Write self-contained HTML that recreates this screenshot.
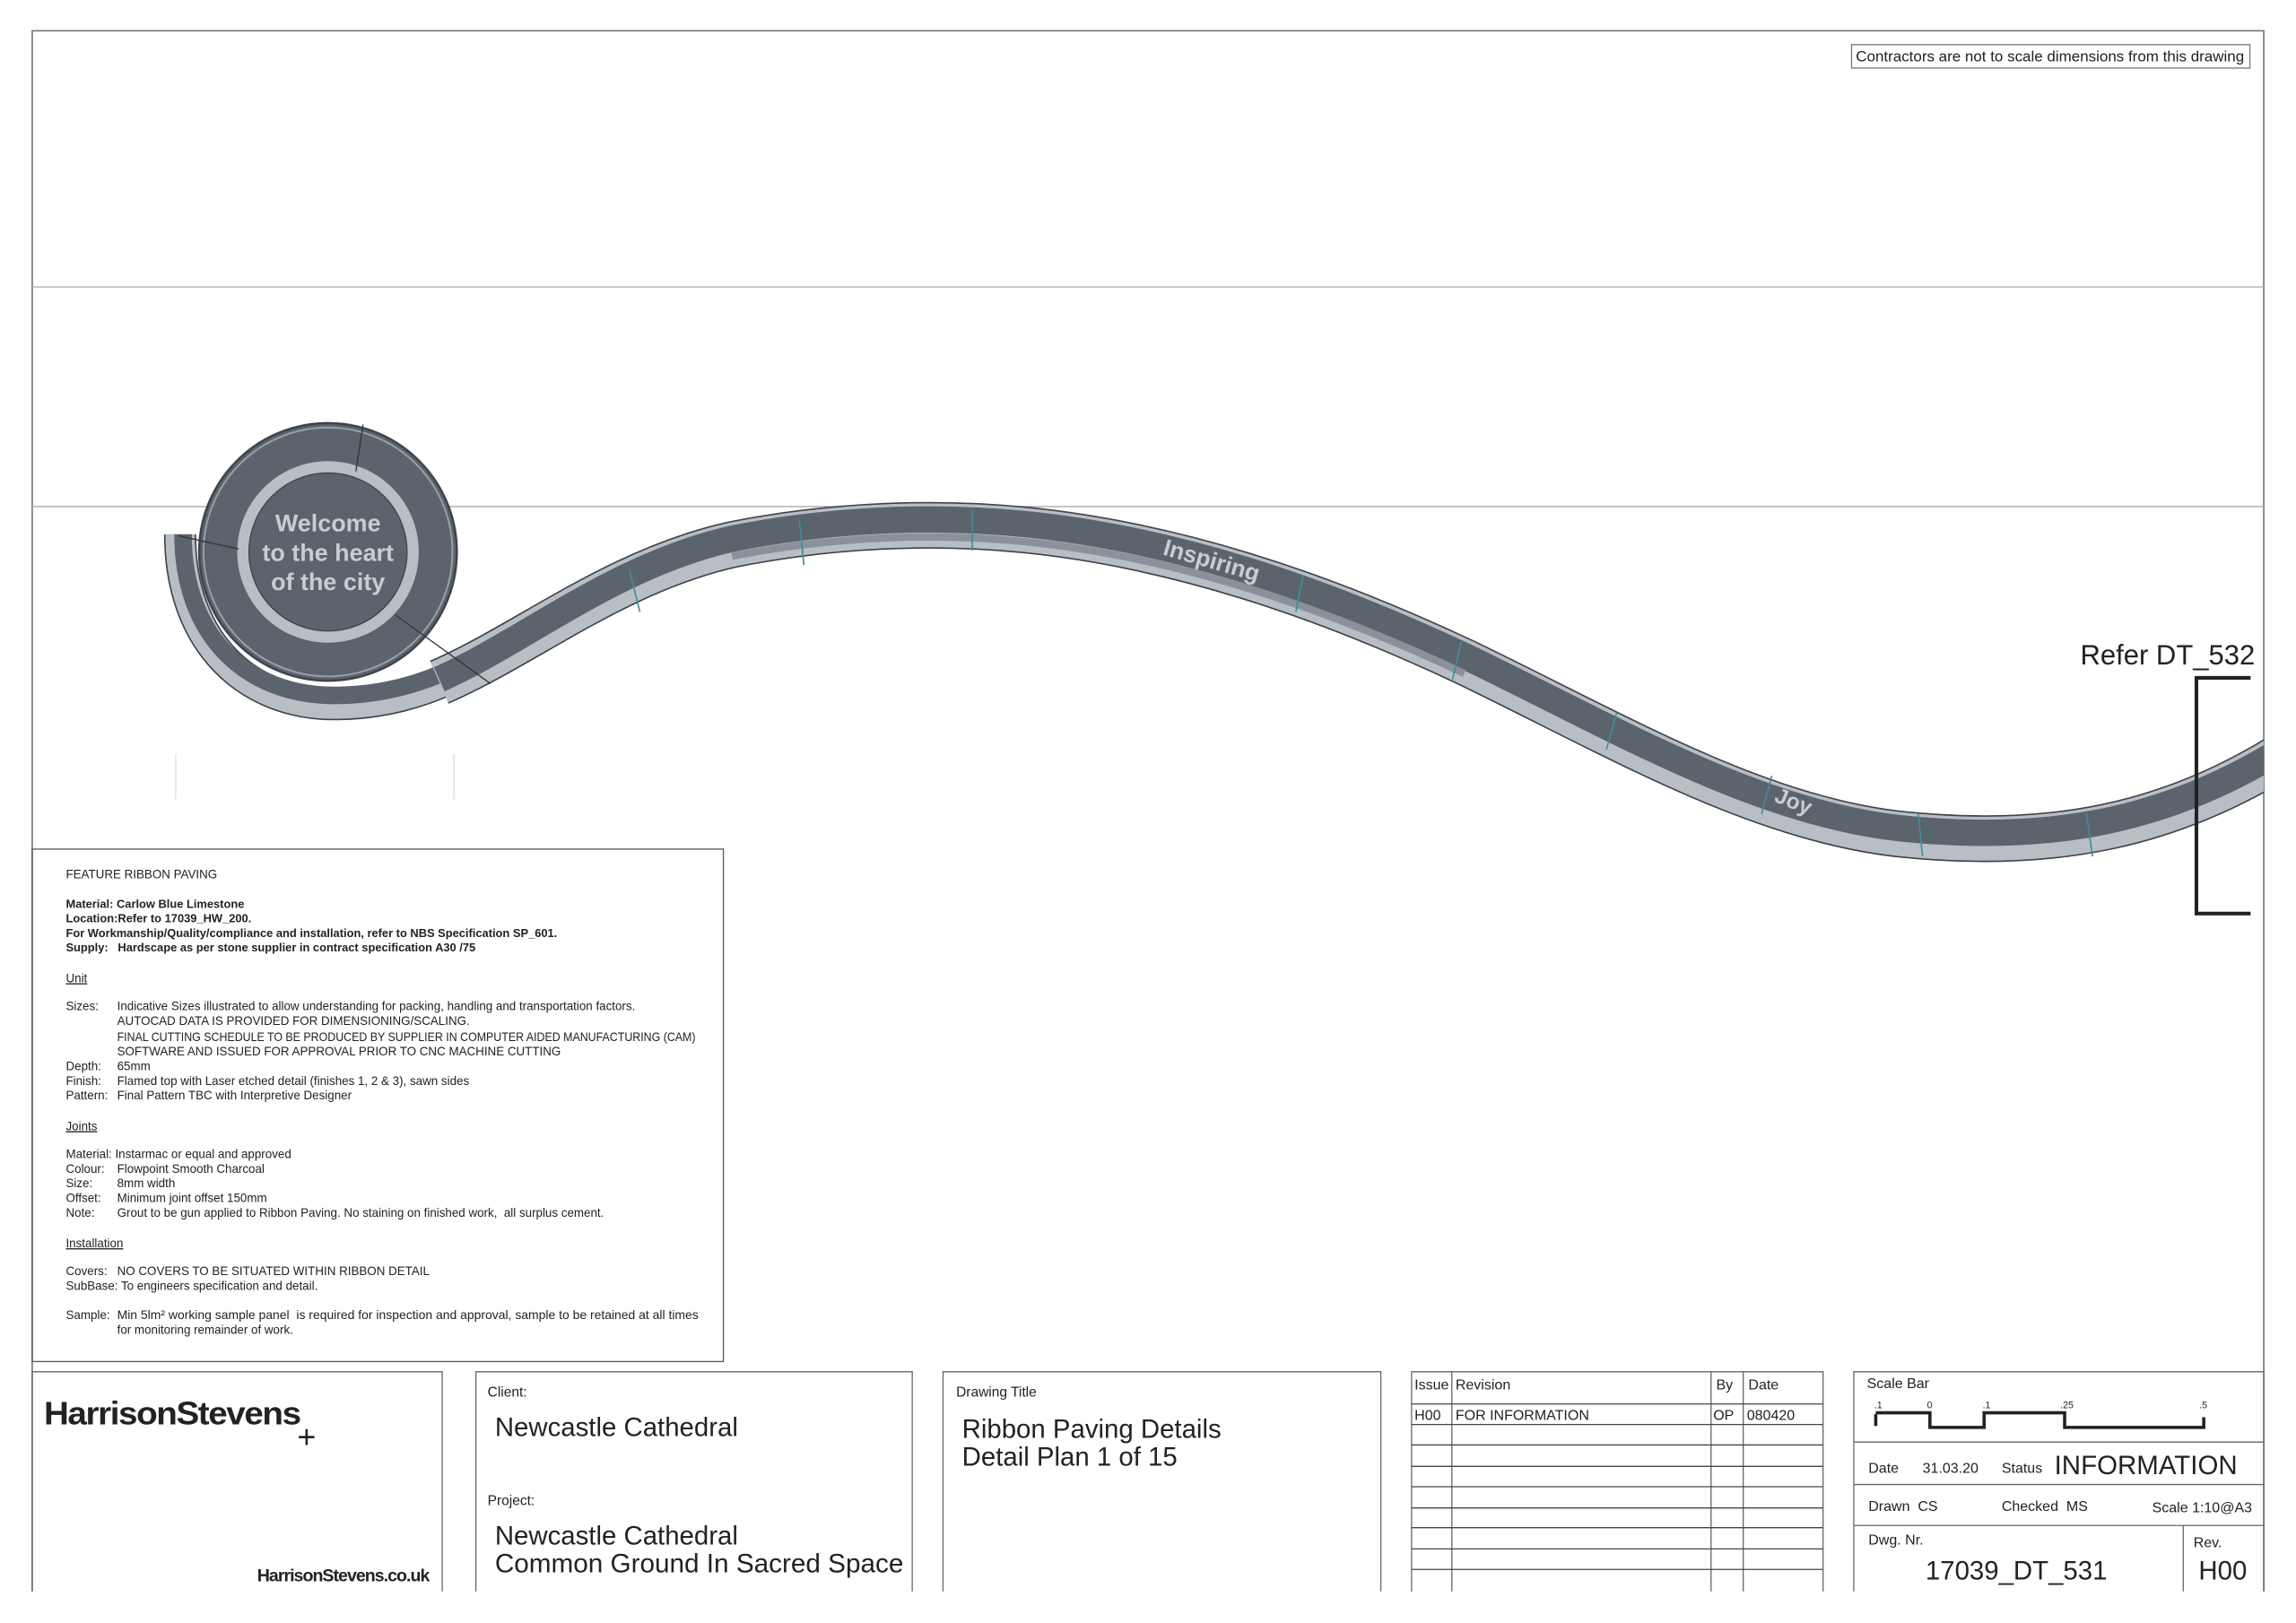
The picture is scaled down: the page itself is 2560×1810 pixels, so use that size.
<!DOCTYPE html>
<html><head><meta charset="utf-8"><style>
html,body{margin:0;padding:0;background:#fff;}
svg{display:block}
text{font-family:"Liberation Sans",sans-serif;}
.n{font-family:"Liberation Sans",sans-serif;fill:#222}
</style></head><body>
<svg width="2560" height="1810" viewBox="0 0 1568 1108.6" preserveAspectRatio="none" xmlns="http://www.w3.org/2000/svg">
<defs><clipPath id="c"><rect x="22" y="21" width="1524" height="1070"/></clipPath></defs>
<rect x="0" y="0" width="1568" height="1109" fill="#fff"/>
<path d="M22 1087 V21 H1546 V1087" fill="none" stroke="#777" stroke-width="1"/>
<line x1="22" y1="196" x2="1546" y2="196" stroke="#aaa" stroke-width="0.8"/>
<line x1="22" y1="346" x2="1546" y2="346" stroke="#aaa" stroke-width="0.8"/>
<rect x="1264.5" y="30.5" width="272" height="16" fill="#fff" stroke="#777" stroke-width="0.8"/>
<text x="1400" y="42" font-size="10.4" text-anchor="middle" fill="#222">Contractors are not to scale dimensions from this drawing</text>
<line x1="120" y1="515" x2="120" y2="546" stroke="#ddd" stroke-width="0.8"/>
<line x1="310" y1="515" x2="310" y2="546" stroke="#ddd" stroke-width="0.8"/>

<g clip-path="url(#c)">
<g fill="none" stroke-linecap="butt">
<path d="M123 365 C 123 440, 170 481, 228 481 C 262 481, 290 472, 310 462" stroke="#3d434a" stroke-width="22"/>
<path d="M123 365 C 123 440, 170 481, 228 481 C 262 481, 290 472, 310 462" stroke="#b9bec5" stroke-width="20"/>
<path d="M125 365 C 125 436, 170 475, 228 475 C 262 475, 290 466, 310 456" stroke="#5b636d" stroke-width="12"/>
<path d="M300 466 C 360 440, 420 390, 500 372 C 570 358, 640 356, 700 362 C 800 372, 900 405, 1000 452 C 1100 500, 1200 560, 1300 570 C 1400 580, 1480 565, 1560 515" stroke="#3d434a" stroke-width="32"/>
<path d="M300 466 C 360 440, 420 390, 500 372 C 570 358, 640 356, 700 362 C 800 372, 900 405, 1000 452 C 1100 500, 1200 560, 1300 570 C 1400 580, 1480 565, 1560 515" stroke="#b9bec5" stroke-width="30"/>
<path d="M300 464 C 360 437, 420 386, 500 368 C 570 354, 640 352, 700 358 C 800 368, 900 401, 1000 448 C 1100 496, 1200 556, 1300 566 C 1400 576, 1480 561, 1560 511" stroke="#5b636d" stroke-width="18"/>
<path d="M500 380 C 570 366, 640 364, 700 370 C 800 380, 900 413, 1000 460" stroke="#8a919b" stroke-width="5"/>
</g>
</g>
<circle cx="224" cy="377" r="88" fill="#5b636d" stroke="#3d434a" stroke-width="1.5"/>
<circle cx="224" cy="377" r="85" fill="none" stroke="#9aa0a8" stroke-width="1.2"/>
<circle cx="224" cy="377" r="62" fill="#b9bec5"/>
<circle cx="224" cy="377" r="54" fill="#5b636d" stroke="#3d434a" stroke-width="0.8"/>
<line x1="248" y1="290" x2="243" y2="322" stroke="#333" stroke-width="0.8"/>
<line x1="270" y1="420" x2="335" y2="467" stroke="#333" stroke-width="0.8"/>
<line x1="122" y1="366" x2="163" y2="375" stroke="#333" stroke-width="0.8"/>
<g stroke="#3b8f9a" stroke-width="1">
<line x1="430" y1="390" x2="437" y2="418"/><line x1="546" y1="356" x2="549" y2="386"/>
<line x1="664" y1="348" x2="664" y2="376"/><line x1="890" y1="393" x2="885" y2="418"/>
<line x1="998" y1="438" x2="992" y2="464"/><line x1="1104" y1="487" x2="1097" y2="512"/>
<line x1="1210" y1="530" x2="1203" y2="556"/><line x1="1310" y1="556" x2="1313" y2="585"/>
<line x1="1425" y1="556" x2="1429" y2="585"/>
</g>
<g font-weight="bold" fill="#c9cdd3" text-anchor="middle" font-size="16.5">
<text x="224" y="363">Welcome</text><text x="224" y="383">to the heart</text><text x="224" y="403">of the city</text>
<text x="0" y="0" font-size="16" transform="translate(826 388) rotate(16)">Inspiring</text>
<text x="0" y="0" font-size="15" transform="translate(1223 552) rotate(22)">Joy</text>
</g>
<text class="n" x="1540" y="454" font-size="19" text-anchor="end">Refer DT_532</text>
<path d="M1537 463 H1500 V624 H1537" fill="none" stroke="#222" stroke-width="2.5"/>

<rect x="22" y="580" width="472" height="350" fill="none" stroke="#555" stroke-width="0.8"/>
<g class="n" font-size="8.2">
<text x="45" y="600">FEATURE RIBBON PAVING</text>
<g font-weight="bold" font-size="7.9"><text x="45" y="620">Material: Carlow Blue Limestone</text>
<text x="45" y="630">Location:Refer to 17039_HW_200.</text>
<text x="45" y="640">For Workmanship/Quality/compliance and installation, refer to NBS Specification SP_601.</text>
<text x="45" y="650">Supply:&#160;&#160; Hardscape as per stone supplier in contract specification A30 /75</text></g>
<text x="45" y="671" text-decoration="underline">Unit</text>
<text x="45" y="690">Sizes:</text><text x="80" y="690">Indicative Sizes illustrated to allow understanding for packing, handling and transportation factors.</text>
<text x="80" y="700">AUTOCAD DATA IS PROVIDED FOR DIMENSIONING/SCALING.</text>
<text x="80" y="711" textLength="395" lengthAdjust="spacingAndGlyphs">FINAL CUTTING SCHEDULE TO BE PRODUCED BY SUPPLIER IN COMPUTER AIDED MANUFACTURING (CAM)</text>
<text x="80" y="721">SOFTWARE AND ISSUED FOR APPROVAL PRIOR TO CNC MACHINE CUTTING</text>
<text x="45" y="731">Depth:</text><text x="80" y="731">65mm</text>
<text x="45" y="741">Finish:</text><text x="80" y="741">Flamed top with Laser etched detail (finishes 1, 2 &amp; 3), sawn sides</text>
<text x="45" y="751">Pattern:</text><text x="80" y="751">Final Pattern TBC with Interpretive Designer</text>
<text x="45" y="772" text-decoration="underline">Joints</text>
<text x="45" y="791">Material: Instarmac or equal and approved</text>
<text x="45" y="801">Colour:</text><text x="80" y="801">Flowpoint Smooth Charcoal</text>
<text x="45" y="811">Size:</text><text x="80" y="811">8mm width</text>
<text x="45" y="821">Offset:</text><text x="80" y="821">Minimum joint offset 150mm</text>
<text x="45" y="831">Note:</text><text x="80" y="831">Grout to be gun applied to Ribbon Paving. No staining on finished work,&#160; all surplus cement.</text>
<text x="45" y="852" text-decoration="underline">Installation</text>
<text x="45" y="871">Covers:</text><text x="80" y="871">NO COVERS TO BE SITUATED WITHIN RIBBON DETAIL</text>
<text x="45" y="881">SubBase: To engineers specification and detail.</text>
<text x="45" y="901">Sample:</text><text x="80" y="901" textLength="397" lengthAdjust="spacingAndGlyphs">Min 5lm² working sample panel&#160; is required for inspection and approval, sample to be retained at all times</text>
<text x="80" y="911">for monitoring remainder of work.</text>
</g>

<g fill="none" stroke="#666" stroke-width="0.8">
<path d="M22 1087 V937 H302 V1087"/><path d="M325 1087 V937 H623 V1087"/><path d="M644 1087 V937 H943 V1087"/>
<path d="M964 1087 V937 H1245 V1087"/><path d="M1266 1087 V937 H1546 V1087"/>
<line x1="991.5" y1="937" x2="991.5" y2="1087"/><line x1="1168.5" y1="937" x2="1168.5" y2="1087"/><line x1="1190.5" y1="937" x2="1190.5" y2="1087"/>
<g stroke="#444"><line x1="964" y1="959" x2="1245" y2="959"/><line x1="964" y1="973" x2="1245" y2="973"/><line x1="964" y1="987" x2="1245" y2="987"/><line x1="964" y1="1001.6" x2="1245" y2="1001.6"/><line x1="964" y1="1015.5" x2="1245" y2="1015.5"/><line x1="964" y1="1030" x2="1245" y2="1030"/><line x1="964" y1="1043.5" x2="1245" y2="1043.5"/><line x1="964" y1="1058" x2="1245" y2="1058"/><line x1="964" y1="1072" x2="1245" y2="1072"/></g>
<line x1="1266" y1="985" x2="1546" y2="985"/><line x1="1266" y1="1014" x2="1546" y2="1014"/><line x1="1266" y1="1042" x2="1546" y2="1042"/>
<line x1="1491" y1="1042" x2="1491" y2="1087"/>
</g>
<text x="30" y="973" font-size="22" font-weight="bold" letter-spacing="-0.8" textLength="175" lengthAdjust="spacingAndGlyphs" fill="#222">HarrisonStevens</text>
<text x="203" y="989" font-size="22" fill="#222">+</text>
<text x="293" y="1080" font-size="12" font-weight="bold" letter-spacing="-0.6" text-anchor="end" fill="#222">HarrisonStevens.co.uk</text>
<g class="n">
<text x="333" y="954" font-size="9.5">Client:</text>
<text x="338" y="981" font-size="18">Newcastle Cathedral</text>
<text x="333" y="1028" font-size="9.5">Project:</text>
<text x="338" y="1055" font-size="18">Newcastle Cathedral</text>
<text x="338" y="1074" font-size="18" textLength="279" lengthAdjust="spacingAndGlyphs">Common Ground In Sacred Space</text>
<text x="653" y="954" font-size="9.5">Drawing Title</text>
<text x="657" y="982" font-size="18">Ribbon Paving Details</text>
<text x="657" y="1001" font-size="18">Detail Plan 1 of 15</text>
<g font-size="9.8"><text x="966" y="949">Issue</text><text x="994" y="949">Revision</text><text x="1172" y="949">By</text><text x="1194" y="949">Date</text>
<text x="966" y="970">H00</text><text x="994" y="970">FOR INFORMATION</text><text x="1170" y="970">OP</text><text x="1193" y="970">080420</text></g>
<text x="1275" y="948" font-size="9.8">Scale Bar</text>
<g font-size="6.5"><text x="1280" y="962">.1</text><text x="1316" y="962">0</text><text x="1354" y="962">.1</text><text x="1407" y="962">.25</text><text x="1502" y="962">.5</text></g>
<text x="1276" y="1006" font-size="9.8">Date</text><text x="1313" y="1006" font-size="9.8">31.03.20</text><text x="1367" y="1006" font-size="9.8">Status</text>
<text x="1403" y="1007" font-size="18" textLength="125" lengthAdjust="spacingAndGlyphs">INFORMATION</text>
<text x="1276" y="1032" font-size="9.8">Drawn&#160; CS</text><text x="1367" y="1032" font-size="9.8">Checked&#160; MS</text><text x="1538" y="1033" font-size="9.8" text-anchor="end">Scale 1:10@A3</text>
<text x="1276" y="1055" font-size="9.8">Dwg. Nr.</text><text x="1498" y="1057" font-size="9.8">Rev.</text>
<text x="1377" y="1079" font-size="18" text-anchor="middle">17039_DT_531</text>
<text x="1518" y="1079" font-size="18" text-anchor="middle">H00</text>
</g>
<path d="M1281 966 V974 M1281 965 H1318 V975 H1355 V965 H1410 V975 H1505 V968" fill="none" stroke="#222" stroke-width="2.2"/>
</svg>
</body></html>
